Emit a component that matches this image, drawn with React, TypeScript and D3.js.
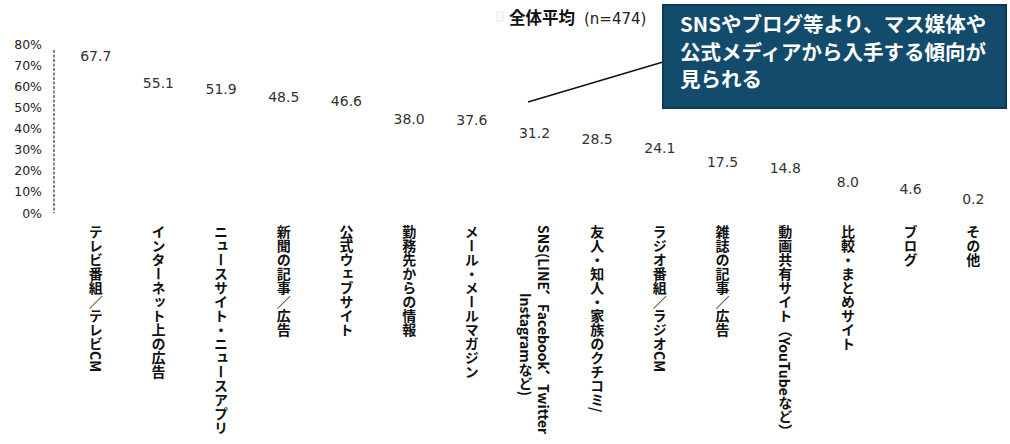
import React from "react";
import * as d3 from "d3";

const categories = [
  "テレビ番組／テレビCM",
  "インターネット上の広告",
  "ニュースサイト・ニュースアプリ",
  "新聞の記事／広告",
  "公式ウェブサイト",
  "勤務先からの情報",
  "メール・メールマガジン",
  "SNS",
  "友人・知人・家族のクチコミ/",
  "ラジオ番組／ラジオCM",
  "雑誌の記事／広告",
  "動画共有サイト（YouTubeなど）",
  "比較・まとめサイト",
  "ブログ",
  "その他",
];
const labelLines: string[][] = [
  ["テレビ番組／テレビCM"],
  ["インターネット上の広告"],
  ["ニュースサイト・ニュースアプリ"],
  ["新聞の記事／広告"],
  ["公式ウェブサイト"],
  ["勤務先からの情報"],
  ["メール・メールマガジン"],
  ["SNS(LINE、Facebook、Twitter", "Instagramなど)"],
  ["友人・知人・家族のクチコミ/"],
  ["ラジオ番組／ラジオCM"],
  ["雑誌の記事／広告"],
  ["動画共有サイト（YouTubeなど）"],
  ["比較・まとめサイト"],
  ["ブログ"],
  ["その他"],
];
const values = [67.7, 55.1, 51.9, 48.5, 46.6, 38.0, 37.6, 31.2, 28.5, 24.1, 17.5, 14.8, 8.0, 4.6, 0.2];
const yTicks = [0, 10, 20, 30, 40, 50, 60, 70, 80];
const legendLabel = "全体平均";
const legendN = "(n=474)";
const calloutLines = ["SNSやブログ等より、マス媒体や", "公式メディアから入手する傾向が", "見られる"];

const W = 1010;
const H = 444;

export default function App() {
  const x = d3.scaleBand<string>().domain(categories).range([55, 1014]).padding(0.3);
  const y = d3.scaleLinear().domain([0, 80]).range([213, 44]);
  const cx = (c: string) => (x(c) ?? 0) + x.bandwidth() / 2;
  const valFont = "'DejaVu Sans', Verdana, sans-serif";
  const jpFont = "'Noto Sans CJK JP', sans-serif";

  return (
    <svg
      width={W}
      height={H}
      style={{ position: "absolute", left: 0, top: 0, background: "#fff" }}
    >
      {/* y axis */}
      <line x1={54} x2={54} y1={y(80) + 6} y2={y(0)} stroke="#333" strokeWidth={1.2} strokeDasharray="3,1.5" />
      {yTicks.map((t) => (
        <text
          key={t}
          x={42}
          y={y(t) + 4.5}
          textAnchor="end"
          fontFamily={valFont}
          fontSize={12.5}
          fill="#222"
        >
          {t}%
        </text>
      ))}

      {/* bars (white, invisible as in the reference) */}
      {categories.map((c, i) => (
        <rect
          key={"b" + i}
          x={x(c)}
          width={x.bandwidth()}
          y={y(values[i])}
          height={y(0) - y(values[i])}
          fill="#fff"
        />
      ))}

      {/* value labels */}
      {categories.map((c, i) => (
        <text
          key={"v" + i}
          x={cx(c)}
          y={y(values[i]) - 9}
          textAnchor="middle"
          fontFamily={valFont}
          fontSize={14}
          fill="#333"
        >
          {values[i].toFixed(1)}
        </text>
      ))}

      {/* category labels, vertical */}
      {categories.map((c, i) =>
        labelLines[i].map((ln, j) => {
          const multi = labelLines[i].length > 1;
          const colX = multi ? cx(c) + 9 - j * 18 : cx(c);
          const startY = multi && j === 1 ? 293 : 225;
          return (
            <text
              key={"c" + i + "-" + j}
              x={colX}
              y={startY}
              fontFamily={jpFont}
              fontWeight={700}
              fontSize={14}
              fill="#111"
              style={{ writingMode: "vertical-rl" } as React.CSSProperties}
            >
              {ln}
            </text>
          );
        })
      )}

      {/* legend */}
      <rect x={497} y={12} width={6} height={9} fill="none" stroke="#ccc" strokeWidth={1} strokeDasharray="1,1" />
      <text x={509} y={24} fontFamily={jpFont} fontWeight={700} fontSize={16.5} fill="#111">
        {legendLabel}
      </text>
      <text x={584} y={24} fontFamily={valFont} fontSize={15} fill="#222">
        {legendN}
      </text>

      {/* callout */}
      <line x1={528} y1={102} x2={663} y2={62} stroke="#111" strokeWidth={1.5} />
      <rect x={663} y={5} width={343} height={103} fill="#134b6c" stroke="#0c3a56" strokeWidth={2} />
      {calloutLines.map((t, i) => (
        <text
          key={"co" + i}
          x={680}
          y={32 + i * 27.5}
          fontFamily={jpFont}
          fontWeight={700}
          fontSize={20.5}
          fill="#fff"
        >
          {t}
        </text>
      ))}
    </svg>
  );
}
